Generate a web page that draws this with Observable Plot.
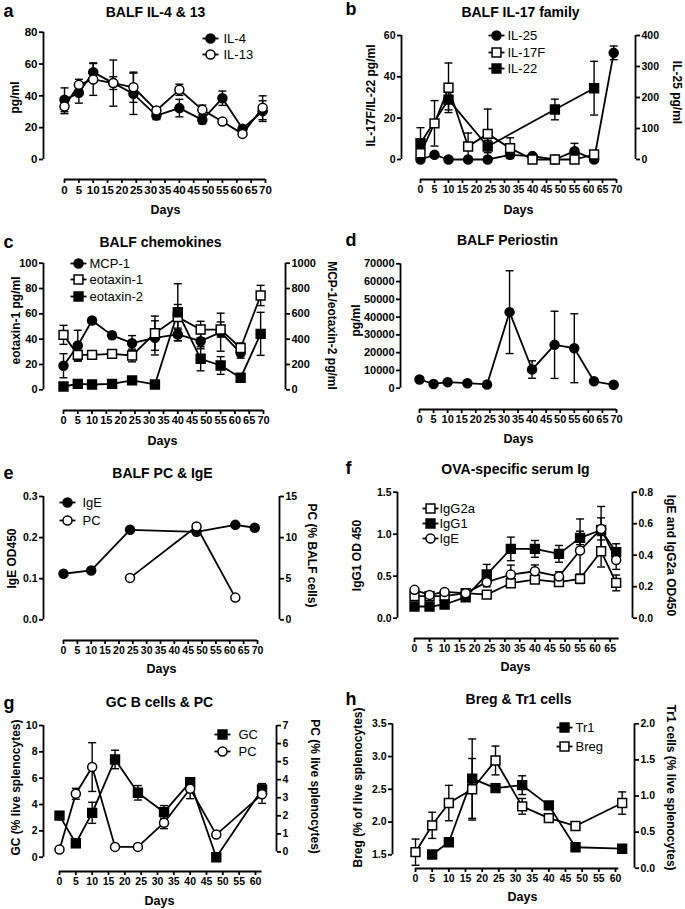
<!DOCTYPE html>
<html><head><meta charset="utf-8">
<script src="https://cdn.jsdelivr.net/npm/d3@7"></script>
<script src="https://cdn.jsdelivr.net/npm/@observablehq/plot@0.6"></script>
<style>
html,body{margin:0;padding:0;background:#fff;}
#page{position:relative;width:685px;height:909px;overflow:hidden;font-family:"Liberation Sans",Arial,sans-serif;}
.panel{position:absolute;}
</style></head>
<body><div id="page"></div>
<script>
// ---------- tick labels ----------
const ticks0to70 = [0,5,10,15,20,25,30,35,40,45,50,55,60,65,70];
const ticks0to65 = [0,5,10,15,20,25,30,35,40,45,50,55,60,65];
const ticks0to60 = [0,5,10,15,20,25,30,35,40,45,50,55,60];

// ---------- a: BALF IL-4 & 13 ----------
const daysA = [0,5,10,17,24,32,40,48,55,62,69];
const il4 = [37.5,41.9,54.9,48,41.3,27.6,32.3,24.9,38.5,19.3,30.4];
const il4Err = [7.5,6.5,5.8,14.5,13,2.5,5.5,2.5,4.5,1.5,6.5];
const il13 = [33.3,46.9,50.3,48,45.4,30.8,43.8,31.2,23.9,16.1,32.5];
const il13Err = [4.5,3.5,10,4,9.5,1.5,3.5,3,1,1,7.5];

// ---------- b: BALF IL-17 family ----------
const daysB25 = [0,5,10,17,24,32,40,48,55,62,69];
const il25 = [0,15,0,0,0,15,11,0,27,0,344];
const il25Err = [0,8,0,0,0,8,5,0,25,0,22];
const daysB17F = [0,5,10,17,24,32,40,48,55,62];
const il17f = [3,17.5,34.7,6.3,12.4,5.5,0,0,0,2.4];
const il17fErr = [2,11,12,6.5,12,5,0.5,0.5,0.5,1];
const daysB22 = [0,10,24,48,62];
const il22 = [7.9,29,6.3,24.2,34.5];
const il22Err = [7.5,5,3,5,13];

// ---------- c: BALF chemokines ----------
const daysCmcp = [0,5,10,17,24,32,40,48,55,62];
const mcp1 = [190,350,547,430,368,410,437,384,455,290];
const mcp1Err = [95,120,10,25,60,135,50,60,150,40];
const daysCeot = [0,5,10,17,24,32,40,48,55,62,69];
const eotaxin1 = [43.4,27.6,27.6,28.4,27.1,44.7,57.4,47.6,47.6,33,74.5];
const eotaxin1Err = [7.5,5,2,2,5,13.5,10,6.5,6,4,8];
const eotaxin2 = [26,47,42,47,74,42,613,245,192,95,442];
const eotaxin2Err = [10,10,10,10,10,10,225,95,70,10,170];

// ---------- d: BALF Periostin ----------
const daysD = [0,5,10,17,24,32,40,48,55,62,69];
const periostin = [4900,2400,3400,2800,2100,42800,10500,24400,22500,3900,1900];
const periostinErr = [0,0,0,0,0,23300,4900,18900,19400,0,0];

// ---------- e: BALF PC & IgE ----------
const daysEige = [0,10,24,48,62,69];
const balfIgE = [0.112,0.12,0.219,0.214,0.231,0.224];
const daysEpc = [24,48,62];
const balfPC = [5.1,11.35,2.7];

// ---------- f: OVA-specific serum Ig ----------
const daysF = [0,5,10,17,24,32,40,48,55,62,67];
const igg1 = [0.139,0.139,0.163,0.25,0.52,0.825,0.825,0.766,0.956,1.05,0.786];
const igg1Err = [0.03,0.03,0.03,0.03,0.12,0.14,0.1,0.1,0.08,0.28,0.1];
const igg2a = [0.14,0.14,0.14,0.159,0.15,0.222,0.245,0.229,0.25,0.425,0.224];
const igg2aErr = [0.01,0.01,0.01,0.01,0.01,0.02,0.02,0.02,0.03,0.1,0.05];
const serumIgE = [0.18,0.148,0.167,0.159,0.229,0.277,0.298,0.265,0.43,0.567,0.37];
const serumIgEErr = [0.01,0.01,0.01,0.01,0.03,0.06,0.04,0.03,0.2,0.07,0.06];

// ---------- g: GC B cells & PC ----------
const daysG = [0,5,10,17,24,32,40,48,62];
const gcCells = [3.16,1.06,3.37,7.42,4.89,3.42,5.7,0,5.14];
const gcErr = [0.3,0.2,0.8,0.7,0.55,0.5,0.3,0.05,0.45];
const pcCells = [0.13,3.22,4.7,0.28,0.28,1.62,3.5,0.96,3.19];
const pcErr = [0.05,0.3,1.35,0.05,0.05,0.33,0.55,0.15,0.5];

// ---------- h: Breg & Tr1 cells ----------
const daysHtr1 = [5,10,17,24,32,40,48,62];
const tr1 = [0.19,0.36,1.24,1.11,1.15,0.87,0.29,0.27];
const tr1Err = [0.02,0.03,0.55,0.03,0.13,0.04,0.03,0.03];
const daysHbreg = [0,5,10,17,24,32,40,48,62];
const breg = [1.54,1.95,2.29,2.5,2.94,2.24,2.06,1.94,2.29];
const bregErr = [0.2,0.2,0.27,0.47,0.22,0.12,0.04,0.03,0.17];

// ================= drawing =================
const BLACK = "#000";
const FONT = "'Liberation Sans', Arial, Helvetica, sans-serif";
const hline = {draw(ctx, size){const w = Math.sqrt(size/Math.PI); ctx.moveTo(-w,0); ctx.lineTo(w,0);}};
const f1 = d3.format(".1f");
const fint = v => String(Math.round(v));

function seriesData(s, map){
  return s.days.map((d,i)=>{
    const v = s.vals[i], e = s.err ? s.err[i] : 0;
    return {day:d, y:map(v), lo:map(v-e), hi:map(v+e), e};
  });
}

function makePanel(c){
  const W = 343;
  const ml = c.yAxisX, mt = 0, mb = c.H - c.xAxisY;
  const mr = c.right ? W - c.right.x : W - c.xRange[1] - 10;
  const sw = 1.8;
  const x0 = c.xDomain[0];
  const yLo = c.yDomain[0];
  const idMap = v => v;
  const marks = [];
  const T = (str, cx, cy, o={}) => Plot.text([str], {frameAnchor:"top-left", text:d=>d, dx:cx-ml, dy:cy-mt,
    textAnchor:o.anchor||"middle", lineAnchor:"middle", fontSize:o.size||12, fontWeight:o.weight||"bold",
    rotate:o.rotate||0, fill:BLACK, fontFamily:FONT});

  // axes
  marks.push(Plot.axisY(c.yTicks, {anchor:"left", tickSize:4, tickPadding:2, strokeWidth:sw, tickFormat:c.yFmt||(d=>String(d)), label:null}));
  marks.push(Plot.ruleX([x0], {y1:c.yTicks[0], y2:c.yTicks[c.yTicks.length-1], dx:c.yAxisX - c.xRange[0], stroke:BLACK, strokeWidth:sw}));
  marks.push(Plot.axisX(c.xTicks, {anchor:"bottom", tickSize:4, tickPadding:2, strokeWidth:sw, tickFormat:d=>String(d), label:null}));
  marks.push(Plot.ruleY([yLo], {x1:c.xLine[0], x2:c.xLine[1], dy:c.xAxisY - c.yRange[0], stroke:BLACK, strokeWidth:sw}));
  if (c.right){
    const R = c.right;
    const map = r => R.b + R.k*r, inv = v => (v - R.b)/R.k;
    R.map = map;
    marks.push(Plot.axisY(R.ticks.map(map), {anchor:"right", tickSize:4, tickPadding:2, strokeWidth:sw, tickFormat:d=>R.fmt(inv(d)), label:null}));
    marks.push(Plot.ruleX([x0], {y1:map(R.ticks[0]), y2:map(R.ticks[R.ticks.length-1]), dx:R.x - c.xRange[0], stroke:BLACK, strokeWidth:sw}));
  }

  // series
  const all = c.series.map(s => ({s, data: seriesData(s, s.axis==="right" ? c.right.map : idMap)}));
  for (const {data} of all){
    const eb = data.filter(d => d.e > 0);
    marks.push(Plot.ruleX(eb, {x:"day", y1:"lo", y2:"hi", stroke:BLACK, strokeWidth:1.4}));
    marks.push(Plot.dot(eb.flatMap(d=>[{day:d.day,y:d.lo},{day:d.day,y:d.hi}]), {x:"day", y:"y", symbol:hline, r:4, stroke:BLACK, strokeWidth:1.4, fill:"none"}));
  }
  for (const {data} of all) marks.push(Plot.line(data, {x:"day", y:"y", stroke:BLACK, strokeWidth:sw}));
  for (const {s, data} of all) marks.push(Plot.dot(data, {x:"day", y:"y", symbol:s.sym, r:s.sym==="circle"?4.5:5, fill:s.fill, stroke:BLACK, strokeWidth:1.5}));

  // legend
  if (c.legend){
    c.legend.items.forEach((it, i) => {
      const my = c.legend.ys[i], mx = c.legend.x;
      marks.push(Plot.dot([0], {frameAnchor:"top-left", dx:mx-ml, dy:my-mt, symbol:hline, r:8, stroke:BLACK, strokeWidth:sw, fill:"none"}));
      marks.push(Plot.dot([0], {frameAnchor:"top-left", dx:mx-ml, dy:my-mt, symbol:it.sym, r:it.sym==="circle"?4.5:5, fill:it.fill, stroke:BLACK, strokeWidth:1.5}));
      marks.push(T(it.label, c.legend.tx, my, {anchor:"start", weight:"normal", size:13}));
    });
  }

  // texts
  marks.push(T(c.letter, 3, c.letterY, {anchor:"start", size:18}));
  marks.push(T(c.title, c.titleX, c.titleY, {size:14}));
  marks.push(T("Days", c.daysX, c.daysY, {size:12.5}));
  marks.push(T(c.yLabel, c.yLabelPos[0], c.yLabelPos[1], {rotate:-90, size:12}));
  if (c.rLabel) marks.push(T(c.rLabel, c.rLabelPos[0], c.rLabelPos[1], {rotate:90, size:12}));

  const svg = Plot.plot({
    width: W, height: c.H,
    marginLeft: ml, marginRight: mr, marginTop: mt, marginBottom: mb,
    x: {domain: c.xDomain, range: c.xRange},
    y: {domain: c.yDomain, range: c.yRange},
    style: {fontFamily: FONT, fontSize: c.tickFont + "px", fontWeight: "bold", color: "#000", background: "transparent", overflow: "visible"},
    marks
  });
  const div = document.createElement("div");
  div.className = "panel";
  div.style.left = c.ox + "px"; div.style.top = c.oy + "px";
  div.appendChild(svg);
  document.getElementById("page").appendChild(div);
}

const FC = {sym:"circle", fill:BLACK}, OC = {sym:"circle", fill:"#fff"};
const FS = {sym:"square", fill:BLACK}, OS = {sym:"square", fill:"#fff"};

// a
makePanel({ox:0, oy:0, H:220, yAxisX:43, xAxisY:179, tickFont:11.5,
  xDomain:[0,70], xRange:[64,265], xTicks:ticks0to70, xLine:[0,70],
  yDomain:[0,80], yRange:[159,31.7], yTicks:[0,20,40,60,80],
  series:[{days:daysA, vals:il4, err:il4Err, ...FC}, {days:daysA, vals:il13, err:il13Err, ...OC}],
  legend:{x:210, tx:223, ys:[38,54], items:[{label:"IL-4", ...FC},{label:"IL-13", ...OC}]},
  letter:"a", letterY:11, title:"BALF IL-4 & 13", titleX:155, titleY:12, daysX:165, daysY:209,
  yLabel:"pg/ml", yLabelPos:[15,97]});

// b
makePanel({ox:342, oy:0, H:220, yAxisX:59, xAxisY:179, tickFont:10.5,
  xDomain:[0,70], xRange:[78,274], xTicks:ticks0to70, xLine:[0,70],
  yDomain:[0,60], yRange:[159,35], yTicks:[0,20,40,60],
  right:{x:293, ticks:[0,100,200,300,400], k:0.15, b:0, fmt:fint},
  series:[{days:daysB25, vals:il25, err:il25Err, axis:"right", ...FC},
          {days:daysB17F, vals:il17f, err:il17fErr, ...OS},
          {days:daysB22, vals:il22, err:il22Err, ...FS}],
  legend:{x:154, tx:165, ys:[35,52,68], items:[{label:"IL-25", ...FC},{label:"IL-17F", ...OS},{label:"IL-22", ...FS}]},
  letter:"b", letterY:9, title:"BALF IL-17 family", titleX:178, titleY:12, daysX:176, daysY:209,
  yLabel:"IL-17F/IL-22 pg/ml", yLabelPos:[29,95], rLabel:"IL-25 pg/ml", rLabelPos:[334,92]});

// c
makePanel({ox:0, oy:220, H:230, yAxisX:43, xAxisY:190, tickFont:11,
  xDomain:[0,70], xRange:[63,263], xTicks:ticks0to70, xLine:[0,70],
  yDomain:[0,100], yRange:[169.3,42.7], yTicks:[0,20,40,60,80,100],
  right:{x:285, ticks:[0,200,400,600,800,1000], k:0.1, b:0, fmt:fint},
  series:[{days:daysCmcp, vals:mcp1, err:mcp1Err, axis:"right", ...FC},
          {days:daysCeot, vals:eotaxin1, err:eotaxin1Err, ...OS},
          {days:daysCeot, vals:eotaxin2, err:eotaxin2Err, axis:"right", ...FS}],
  legend:{x:78, tx:89, ys:[43,59,76], items:[{label:"MCP-1", ...FC},{label:"eotaxin-1", ...OS},{label:"eotaxin-2", ...FS}]},
  letter:"c", letterY:22, title:"BALF chemokines", titleX:160, titleY:22, daysX:162, daysY:220,
  yLabel:"eotaxin-1 pg/ml", yLabelPos:[16,100], rLabel:"MCP-1/eotaxin-2 pg/ml", rLabelPos:[331,105]});

// d
makePanel({ox:342, oy:220, H:230, yAxisX:58, xAxisY:189, tickFont:11,
  xDomain:[0,70], xRange:[77,274], xTicks:ticks0to70, xLine:[0,70],
  yDomain:[0,70000], yRange:[167.7,43.3], yTicks:[0,10000,20000,30000,40000,50000,60000,70000],
  series:[{days:daysD, vals:periostin, err:periostinErr, ...FC}],
  letter:"d", letterY:20, title:"BALF Periostin", titleX:165, titleY:20, daysX:176, daysY:218,
  yLabel:"pg/ml", yLabelPos:[14,100]});

// e
makePanel({ox:0, oy:450, H:225, yAxisX:43, xAxisY:190, tickFont:10.5,
  xDomain:[0,70], xRange:[63,257], xTicks:ticks0to70, xLine:[0,70],
  yDomain:[0,0.3], yRange:[169.3,46], yTicks:[0,0.1,0.2,0.3], yFmt:f1,
  right:{x:279, ticks:[0,5,10,15], k:0.02, b:0, fmt:fint},
  series:[{days:daysEige, vals:balfIgE, ...FC}, {days:daysEpc, vals:balfPC, axis:"right", ...OC}],
  legend:{x:67, tx:82, ys:[52,70], items:[{label:"IgE", ...FC},{label:"PC", ...OC}]},
  letter:"e", letterY:23, title:"BALF PC & IgE", titleX:162, titleY:23, daysX:161, daysY:218,
  yLabel:"IgE OD450", yLabelPos:[12,108], rLabel:"PC (% BALF cells)", rLabelPos:[311,105]});

// f
makePanel({ox:342, oy:450, H:225, yAxisX:55, xAxisY:188, tickFont:10.5,
  xDomain:[0,70], xRange:[72,282.7], xTicks:ticks0to65, xLine:[0,68],
  yDomain:[0,1.5], yRange:[167.7,41.7], yTicks:[0,0.5,1.0,1.5], yFmt:f1,
  right:{x:290, ticks:[0,0.2,0.4,0.6,0.8], k:1.875, b:0, fmt:f1},
  series:[{days:daysF, vals:igg2a, err:igg2aErr, axis:"right", ...OS},
          {days:daysF, vals:igg1, err:igg1Err, ...FS},
          {days:daysF, vals:serumIgE, err:serumIgEErr, axis:"right", ...OC}],
  legend:{x:88, tx:97, ys:[58,73,88], items:[{label:"IgG2a", ...OS},{label:"IgG1", ...FS},{label:"IgE", ...OC}]},
  letter:"f", letterY:18, title:"OVA-specific serum Ig", titleX:173, titleY:19, daysX:173, daysY:216,
  yLabel:"IgG1 OD 450", yLabelPos:[15,105], rLabel:"IgE and IgG2a OD450", rLabelPos:[328,105]});

// g
makePanel({ox:0, oy:675, H:234, yAxisX:43, xAxisY:196, tickFont:10.5,
  xDomain:[0,60], xRange:[59,255], xTicks:ticks0to60, xLine:[0,62],
  yDomain:[0,10], yRange:[181.7,50], yTicks:[0,2,4,6,8,10],
  right:{x:276, ticks:[0,1,2,3,4,5,6,7], k:1.371, b:0.40, fmt:fint},
  series:[{days:daysG, vals:gcCells, err:gcErr, ...FS}, {days:daysG, vals:pcCells, err:pcErr, axis:"right", ...OC}],
  legend:{x:222, tx:238, ys:[59,76], items:[{label:"GC", ...FS},{label:"PC", ...OC}]},
  letter:"g", letterY:28, title:"GC B cells & PC", titleX:159, titleY:27, daysX:159, daysY:225,
  yLabel:"GC (% live splenocytes)", yLabelPos:[16,112], rLabel:"PC (% live splenocytes)", rLabelPos:[314,111]});

// h
makePanel({ox:342, oy:675, H:234, yAxisX:50, xAxisY:193, tickFont:10.5,
  xDomain:[0,60], xRange:[73,273], xTicks:ticks0to60, xLine:[0,61],
  yDomain:[1.2954,3.5], yRange:[192.7,48.3], yTicks:[1.5,2.0,2.5,3.0,3.5], yFmt:f1,
  right:{x:292, ticks:[0,0.5,1.0,1.5,2.0], k:1.1023, b:1.2954, fmt:f1},
  series:[{days:daysHtr1, vals:tr1, err:tr1Err, axis:"right", ...FS}, {days:daysHbreg, vals:breg, err:bregErr, ...OS}],
  legend:{x:222, tx:233, ys:[52,71], items:[{label:"Tr1", ...FS},{label:"Breg", ...OS}]},
  letter:"h", letterY:24, title:"Breg & Tr1 cells", titleX:176, titleY:24, daysX:180, daysY:221,
  yLabel:"Breg (% of live splenocytes)", yLabelPos:[16,112], rLabel:"Tr1 cells (% live splenocytes)", rLabelPos:[328,112]});
</script>
</body></html>
